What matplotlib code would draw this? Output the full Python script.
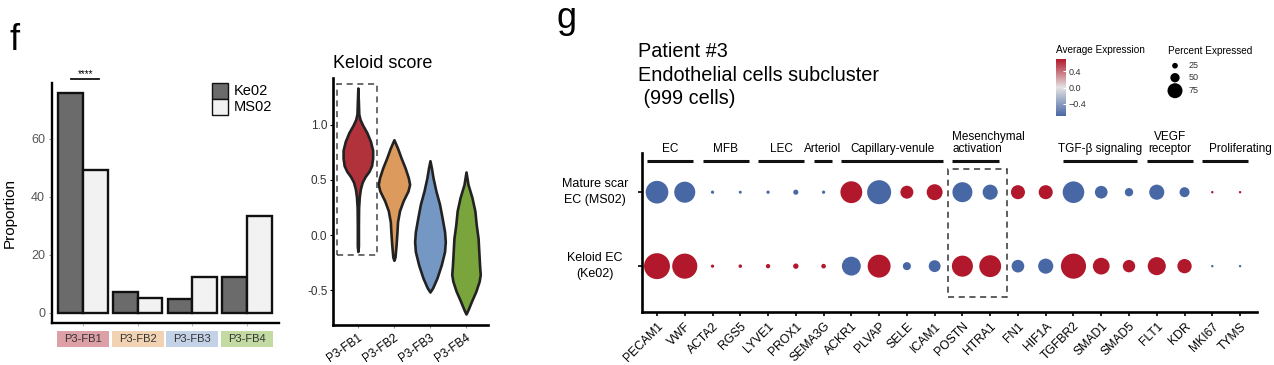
import numpy as np
import matplotlib
matplotlib.use('Agg')
import matplotlib.pyplot as plt
from matplotlib.patches import Rectangle
from matplotlib.colors import LinearSegmentedColormap, Normalize
from matplotlib.cm import ScalarMappable

plt.rcParams['font.family'] = ['Liberation Sans', 'DejaVu Sans']

# ---------------- data ----------------
clusters = ['P3-FB1', 'P3-FB2', 'P3-FB3', 'P3-FB4']
ke02_prop = [75.7, 7.1, 4.9, 12.3]
ms02_prop = [49.2, 5.2, 12.3, 33.3]
prop_ticks = [0, 20, 40, 60]

# violin outlines: score value and half width
fb1_y = [-0.15, -0.1, 0.1, 0.25, 0.35, 0.42, 0.48, 0.53, 0.58, 0.63, 0.70, 0.77, 0.85, 0.93, 1.0, 1.05, 1.1, 1.2, 1.336]
fb1_w = [0.0, 0.015, 0.015, 0.02, 0.04, 0.07, 0.12, 0.2, 0.31, 0.38, 0.41, 0.41, 0.35, 0.25, 0.13, 0.06, 0.025, 0.015, 0.0]
fb2_y = [-0.23, -0.2, -0.09, 0.03, 0.12, 0.22, 0.31, 0.40, 0.46, 0.52, 0.61, 0.70, 0.79, 0.866]
fb2_w = [0.0, 0.03, 0.06, 0.085, 0.10, 0.155, 0.255, 0.39, 0.435, 0.40, 0.31, 0.20, 0.10, 0.0]
fb3_y = [-0.518, -0.48, -0.39, -0.27, -0.15, -0.06, 0.03, 0.16, 0.28, 0.40, 0.52, 0.61, 0.675]
fb3_w = [0.0, 0.075, 0.195, 0.315, 0.405, 0.425, 0.405, 0.335, 0.265, 0.165, 0.085, 0.04, 0.0]
fb4_y = [-0.718, -0.68, -0.60, -0.51, -0.42, -0.36, -0.27, -0.15, -0.03, 0.09, 0.22, 0.34, 0.46, 0.573]
fb4_w = [0.0, 0.055, 0.155, 0.275, 0.365, 0.395, 0.375, 0.355, 0.335, 0.285, 0.245, 0.165, 0.055, 0.0]
score_ticks = [-0.5, 0.0, 0.5, 1.0]

genes = ['PECAM1', 'VWF', 'ACTA2', 'RGS5', 'LYVE1', 'PROX1', 'SEMA3G', 'ACKR1', 'PLVAP',
         'SELE', 'ICAM1', 'POSTN', 'HTRA1', 'FN1', 'HIF1A', 'TGFBR2', 'SMAD1', 'SMAD5',
         'FLT1', 'KDR', 'MKI67', 'TYMS']
ms02_pct = [84, 78, 12, 11, 12, 19, 12, 81, 89, 48, 59, 74, 56, 52, 52, 80, 47, 31, 56, 37, 9, 9]
ke02_pct = [96, 93, 12, 13, 16, 20, 17, 70, 85, 30, 44, 78, 81, 47, 56, 93, 62, 46, 67, 53, 9, 9]
ms02_avg = [-0.71, -0.71, -0.71, -0.71, -0.71, -0.71, -0.71, 0.71, -0.71, 0.71, 0.71,
            -0.71, -0.71, 0.71, 0.71, -0.71, -0.71, -0.71, -0.71, -0.71, 0.71, 0.71]
ke02_avg = [-v for v in ms02_avg]
row_labels = ['Keloid EC\n(Ke02)', 'Mature scar\nEC (MS02)']

group_names = ['EC', 'MFB', 'LEC', 'Arteriol', 'Capillary-venule', 'Mesenchymal\nactivation',
               'TGF-β signaling', 'VEGF\nreceptor', 'Proliferating']
group_first = ['PECAM1', 'ACTA2', 'LYVE1', 'SEMA3G', 'ACKR1', 'POSTN', 'TGFBR2', 'FLT1', 'MKI67']
group_last = ['VWF', 'RGS5', 'PROX1', 'SEMA3G', 'ICAM1', 'HTRA1', 'SMAD5', 'KDR', 'TYMS']

avg_ticks = [-0.4, 0.0, 0.4]
pct_legend = [25, 50, 75]

# ---------------- layout helpers ----------------
W, H = 1274, 365
fig = plt.figure(figsize=(W / 100, H / 100), dpi=100)


def ax_px(l, t, r, b):
    return fig.add_axes([l / W, 1 - b / H, (r - l) / W, (b - t) / H])


def ftext(x, y, s, **kw):
    return fig.text(x / W, 1 - y / H, s, **kw)


# ---------------- panel f: bars ----------------
ax1 = ax_px(52, 83, 279, 323)
xc = np.arange(len(clusters))
bw = 0.45
ax1.bar(xc - bw / 2, ke02_prop, bw, color='#6b6b6b', edgecolor='#111111', lw=1.7)
ax1.bar(xc + bw / 2, ms02_prop, bw, color='#f2f2f2', edgecolor='#111111', lw=1.7)
ax1.set_xlim(-0.567, 3.585)
ax1.set_ylim(-3.45, 79.3)
for s in ['top', 'right']:
    ax1.spines[s].set_visible(False)
for s in ['left', 'bottom']:
    ax1.spines[s].set_linewidth(1.7)
ax1.set_yticks(prop_ticks)
ax1.tick_params(axis='y', length=2, color='#888888', labelsize=9, labelcolor='#555555', pad=3)
ax1.set_xticks(xc)
ax1.set_xticklabels([])
ax1.tick_params(axis='x', length=2, color='#bbbbbb')

box_colors = ['#dca0a6', '#f1d2b3', '#c3d2e6', '#c3dba3']
for i, c in enumerate(clusters):
    ax1.add_patch(Rectangle((i - 0.475, -0.1), 0.95, 0.0667, transform=ax1.get_xaxis_transform(),
                            clip_on=False, facecolor=box_colors[i], edgecolor='none'))
    ax1.text(i, -0.0667, c, transform=ax1.get_xaxis_transform(), ha='center', va='center',
             fontsize=8, color='#333333')

ax1.plot([-0.22, 0.3], [80.7, 80.7], color='#111111', lw=1.3, clip_on=False)
ax1.text(0.04, 81.3, '****', ha='center', va='baseline', fontsize=7, clip_on=False)

# legend
for j, (lab, col) in enumerate([('Ke02', '#6b6b6b'), ('MS02', '#f2f2f2')]):
    y0 = 0.933 - j * 0.0667
    ax1.add_patch(Rectangle((0.705, y0), 0.07, 0.0667, transform=ax1.transAxes, facecolor=col,
                            edgecolor='#111111', lw=1.0, clip_on=False))
    ax1.text(0.80, y0 + 0.033, lab, transform=ax1.transAxes, ha='left', va='center', fontsize=10.5)

ftext(10, 213, 'Proportion', rotation=90, ha='center', va='center', fontsize=11)
ftext(10, 50, 'f', fontsize=26, ha='left', va='baseline')

# ---------------- panel f: violins ----------------
ax2 = ax_px(333, 78, 488, 325)
vcolors = ['#b2323b', '#dc9a5c', '#7597c3', '#79a53c']
for i, (ys, ws) in enumerate([(fb1_y, fb1_w), (fb2_y, fb2_w), (fb3_y, fb3_w), (fb4_y, fb4_w)]):
    ys = np.array(ys)
    ws = np.array(ws)
    ax2.fill_betweenx(ys, i - ws, i + ws, facecolor=vcolors[i], edgecolor='#222222', lw=1.9,
                      joinstyle='round')
ax2.set_xlim(-0.69, 3.61)
ax2.set_ylim(-0.818, 1.427)
for s in ['top', 'right']:
    ax2.spines[s].set_visible(False)
for s in ['left', 'bottom']:
    ax2.spines[s].set_linewidth(1.9)
ax2.set_yticks(score_ticks)
ax2.set_yticklabels(['-0.5', '0.0', '0.5', '1.0'])
ax2.tick_params(axis='y', length=2, labelsize=8.5, labelcolor='#333333', pad=2)
ax2.set_xticks(np.arange(4))
ax2.set_xticklabels(clusters, rotation=35, ha='right', rotation_mode='anchor', fontsize=8.5)
ax2.tick_params(axis='x', length=2, color='#999999', pad=3)
ax2.add_patch(Rectangle((-0.583, -0.182), 1.111, 1.555, fill=False, ls=(0, (4, 3)), lw=1.1,
                        edgecolor='#444444', clip_on=False))
ftext(333, 63, 'Keloid score', fontsize=13, ha='left', va='center')

# ---------------- panel g: dot plot ----------------
cmap = LinearSegmentedColormap.from_list('ae', ['#4867a5', '#e2e2e2', '#b2182b'])
norm = Normalize(-0.71, 0.71)

ax3 = ax_px(642, 153, 1257, 312)
gx = np.arange(len(genes))
for yrow, pct, avg in [(1, ms02_pct, ms02_avg), (0, ke02_pct, ke02_avg)]:
    sizes = (np.array(pct) * 0.27 * 0.72) ** 2
    ax3.scatter(gx, np.full(len(genes), yrow), s=sizes, c=avg, cmap=cmap, norm=norm,
                edgecolors='none', zorder=3)
ax3.set_xlim(-0.54, 21.61)
ax3.set_ylim(-0.62, 1.53)
for s in ['top', 'right']:
    ax3.spines[s].set_visible(False)
for s in ['left', 'bottom']:
    ax3.spines[s].set_linewidth(1.9)
ax3.set_xticks(gx)
ax3.set_xticklabels(genes, rotation=45, ha='right', rotation_mode='anchor', fontsize=8.7)
ax3.tick_params(axis='x', length=3, width=1.2, pad=3)
ax3.set_yticks([0, 1])
ax3.set_yticklabels([])
ax3.tick_params(axis='y', length=3, width=1.2)
for yrow, lab in enumerate(row_labels):
    ax3.text(-0.0764, yrow, lab, transform=ax3.get_yaxis_transform(), ha='center', va='center',
             multialignment='center', fontsize=9, linespacing=1.4)

for name, g0, g1 in zip(group_names, group_first, group_last):
    a = genes.index(g0) - 0.36
    b = genes.index(g1) + 0.3
    ax3.plot([a, b], [1.42, 1.42], color='#111111', lw=2.2, clip_on=False, solid_capstyle='butt')
    if name.startswith('Mesenchymal'):
        ax3.text(a, 1.5, name, ha='left', va='bottom', fontsize=8.5, linespacing=1.05,
                 multialignment='left', clip_on=False)
    elif name == 'Proliferating':
        ax3.text(b + 0.85, 1.5, name, ha='right', va='bottom', fontsize=8.5, clip_on=False)
    else:
        ax3.text((a + b) / 2, 1.5, name, ha='center', va='bottom', fontsize=8.5, linespacing=1.05,
                 multialignment='center', clip_on=False)

ax3.add_patch(Rectangle((10.48, -0.42), 2.13, 1.73, fill=False, ls=(0, (4, 3)), lw=1.1,
                        edgecolor='#333333', clip_on=False))

ftext(557, 28, 'g', fontsize=26, ha='left', va='baseline')
ftext(638, 57, 'Patient #3', fontsize=14.3, ha='left', va='baseline')
ftext(638, 81, 'Endothelial cells subcluster', fontsize=14.3, ha='left', va='baseline')
ftext(638, 104, ' (999 cells)', fontsize=14.3, ha='left', va='baseline')

# colorbar
cax = ax_px(1056, 59, 1066, 116)
cb = fig.colorbar(ScalarMappable(norm=norm, cmap=cmap), cax=cax, ticks=avg_ticks)
cb.outline.set_visible(False)
cb.ax.set_yticklabels(['\u22120.4', '0.0', '0.4'])
cax.tick_params(length=2.5, color='white', direction='in', labelsize=6.5, labelcolor='#333333', pad=2)
ftext(1056, 50, 'Average Expression', fontsize=7.2, ha='left', va='center')

# percent legend
ftext(1168, 51, 'Percent Expressed', fontsize=7.2, ha='left', va='center')
lax = ax_px(1160, 55, 1230, 100)
lax.set_xlim(1160, 1230)
lax.set_ylim(100, 55)
lax.axis('off')
leg_diam = [5.7, 9.3, 15.0]
leg_y = [65.7, 77.7, 90.7]
for p, d, yy in zip(pct_legend, leg_diam, leg_y):
    lax.scatter([1175], [yy], s=(d * 0.72) ** 2, color='black', edgecolors='none', clip_on=False)
    lax.text(1189, yy, str(p), fontsize=6.5, ha='left', va='center', color='#333333')

fig.savefig('out.png', dpi=100)
